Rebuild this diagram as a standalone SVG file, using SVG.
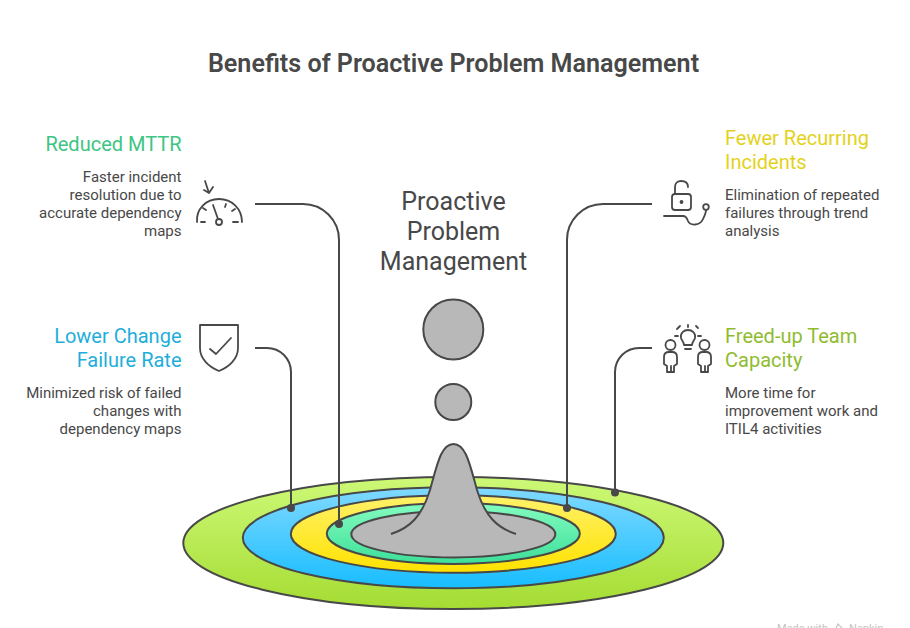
<svg xmlns="http://www.w3.org/2000/svg" width="910" height="628" viewBox="0 0 910 628">
<defs>
<linearGradient id="gLime" x1="0" y1="0" x2="0" y2="1"><stop offset="0" stop-color="#cdf977"/><stop offset="1" stop-color="#a5dc32"/></linearGradient>
<linearGradient id="gBlue" x1="0" y1="0" x2="0" y2="1"><stop offset="0" stop-color="#80d9ff"/><stop offset="1" stop-color="#18bdff"/></linearGradient>
<linearGradient id="gYellow" x1="0" y1="0" x2="0" y2="1"><stop offset="0" stop-color="#fff169"/><stop offset="1" stop-color="#ffe200"/></linearGradient>
<linearGradient id="gGreen" x1="0" y1="0" x2="0" y2="1"><stop offset="0" stop-color="#84fcc0"/><stop offset="1" stop-color="#3ddf99"/></linearGradient>
</defs>
<style>
text{font-family:Roboto,"Liberation Sans",sans-serif;fill:#484848}
.ring{stroke:#484848;stroke-width:2}
.gray{fill:#b8b8b8;stroke:#484848;stroke-width:2}
.conn{fill:none;stroke:#484848;stroke-width:2}
.dot{fill:#484848}
.ic{fill:none;stroke:#484848;stroke-width:1.8;stroke-linecap:round;stroke-linejoin:round}
.t{font-size:25.100px;font-weight:600;text-anchor:middle}
.c{font-size:25px;text-anchor:middle}
.h{font-size:20px}
.b{font-size:15px}
.e{text-anchor:end}
</style>
<rect width="910" height="628" fill="#ffffff"/>
<text class="t" x="453.500" y="71.500">Benefits of Proactive Problem Management</text>
<g id="base-rings">
<ellipse class="ring" cx="453.300" cy="543" rx="270" ry="66" fill="url(#gLime)"/>
<ellipse class="ring" cx="453.300" cy="537.800" rx="210.500" ry="50.500" fill="url(#gBlue)"/>
<ellipse class="ring" cx="453.300" cy="534" rx="162.500" ry="38.700" fill="url(#gYellow)"/>
<ellipse class="ring" cx="453.300" cy="533.500" rx="126.500" ry="30.500" fill="url(#gGreen)"/>
<ellipse class="gray" cx="453.300" cy="534.200" rx="102" ry="23.200"/>
</g>
<g id="central-drop">
<path d="M391 534C410 528 422 516 430 490C437 465 441 444 453.500 444C466 444 470 465 477 490C485 516 497 528 516 534C495 548 412 548 391 534Z" fill="#b8b8b8" stroke="none"/>
<path class="conn" d="M391 534C410 528 422 516 430 490C437 465 441 444 453.500 444C466 444 470 465 477 490C485 516 497 528 516 534"/>
<circle class="gray" cx="453.300" cy="329.500" r="30"/>
<circle class="gray" cx="453.300" cy="402" r="18"/>
<text class="c"><tspan x="453.500" y="210">Proactive</tspan><tspan x="453.500" y="240">Problem</tspan><tspan x="453.500" y="270">Management</tspan></text>
</g>
<g id="connectors">
<path class="conn" d="M255 204H303A36 36 0 0 1 339 240V524"/>
<path class="conn" d="M255 348H267A24 24 0 0 1 291 372V508"/>
<path class="conn" d="M652 204H603A36 36 0 0 0 567 240V508"/>
<path class="conn" d="M652 348H639A24 24 0 0 0 615 372V492"/>
<circle class="dot" cx="339" cy="524" r="4"/>
<circle class="dot" cx="291" cy="508" r="4"/>
<circle class="dot" cx="567" cy="508" r="4"/>
<circle class="dot" cx="615" cy="492.500" r="4"/>
</g>
<g id="node-reduced-mttr">
<text class="h e" x="181.500" y="151" style="fill:#3cc583">Reduced MTTR</text>
<text class="b e"><tspan x="181.500" y="182">Faster incident</tspan><tspan x="181.500" y="200">resolution due to</tspan><tspan x="181.500" y="218">accurate dependency</tspan><tspan x="181.500" y="236">maps</tspan></text>
<g class="ic">
<path d="M197 222C196 209 206 199 219 199C232 199 242 209 242 222"/>
<path d="M205 181L209 193L204 190M209 193L213 187"/>
<path d="M213 205L218 219M203 208L206 210M235 209L232 211M226 204L225 207M201 222H205M233 222H238"/>
<circle cx="219" cy="222" r="3"/>
</g>
</g>
<g id="node-lower-change">
<text class="h e"><tspan x="181.500" y="343" style="fill:#1eaedb">Lower Change</tspan><tspan x="181.500" y="367" style="fill:#1eaedb">Failure Rate</tspan></text>
<text class="b e"><tspan x="181.500" y="398">Minimized risk of failed</tspan><tspan x="181.500" y="416">changes with</tspan><tspan x="181.500" y="434">dependency maps</tspan></text>
<g class="ic">
<path d="M200 325H238V348C238 359 229 367 219 371C209 367 200 359 200 348Z"/>
<path d="M210 349L216 354L231 338"/>
</g>
</g>
<g id="node-fewer-recurring">
<text class="h"><tspan x="725" y="145" style="fill:#e3d21c">Fewer Recurring</tspan><tspan x="725" y="169" style="fill:#e3d21c">Incidents</tspan></text>
<text class="b"><tspan x="725" y="200">Elimination of repeated</tspan><tspan x="725" y="218">failures through trend</tspan><tspan x="725" y="236">analysis</tspan></text>
<g class="ic">
<rect x="672" y="194" width="19" height="16" rx="3"/>
<path d="M675 194V187C675 183 678 181 681 181C685 181 688 183 688 187"/>
<circle cx="681.500" cy="202" r="1" fill="#484848"/>
<path d="M664 216H683C686 216 687 218 688 221C690 226 700 226 703 219C705 215 706 212 706 210"/>
<circle cx="706" cy="207" r="2.800"/>
</g>
</g>
<g id="node-freed-up">
<text class="h"><tspan x="725" y="343" style="fill:#8fbc2f">Freed-up Team</tspan><tspan x="725" y="367" style="fill:#8fbc2f">Capacity</tspan></text>
<text class="b"><tspan x="725" y="398">More time for</tspan><tspan x="725" y="416">improvement work and</tspan><tspan x="725" y="434">ITIL4 activities</tspan></text>
<g class="ic">
<circle cx="670.500" cy="345" r="5"/>
<path d="M664 364V357C664 354 666 352 669 352H672C675 352 677 354 677 357V364L674 366V372H671V366M671 372H667V366L664 364"/>
<circle cx="704.500" cy="345" r="5"/>
<path d="M698 364V357C698 354 700 352 703 352H706C709 352 711 354 711 357V364L708 366V372H705V366M705 372H701V366L698 364"/>
<path d="M684 345C684 342 682 341 681 338C680 333 684 330 688 330C692 330 696 333 695 338C694 341 692 342 692 345ZM685 349H691M680 326L677 329M688 325V327M696 326L698 328M675 336H678M698 336H701"/>
</g>
</g>
<g id="attribution">
<text x="777" y="632" style="font-size:11px;fill:#c4c4c4">Made with</text>
<path d="M836 628L838 624L842 628" fill="none" stroke="#c4c4c4" stroke-width="1.200"/>
<text x="849" y="632" style="font-size:11px;fill:#c4c4c4">Napkin</text>
</g>
</svg>
